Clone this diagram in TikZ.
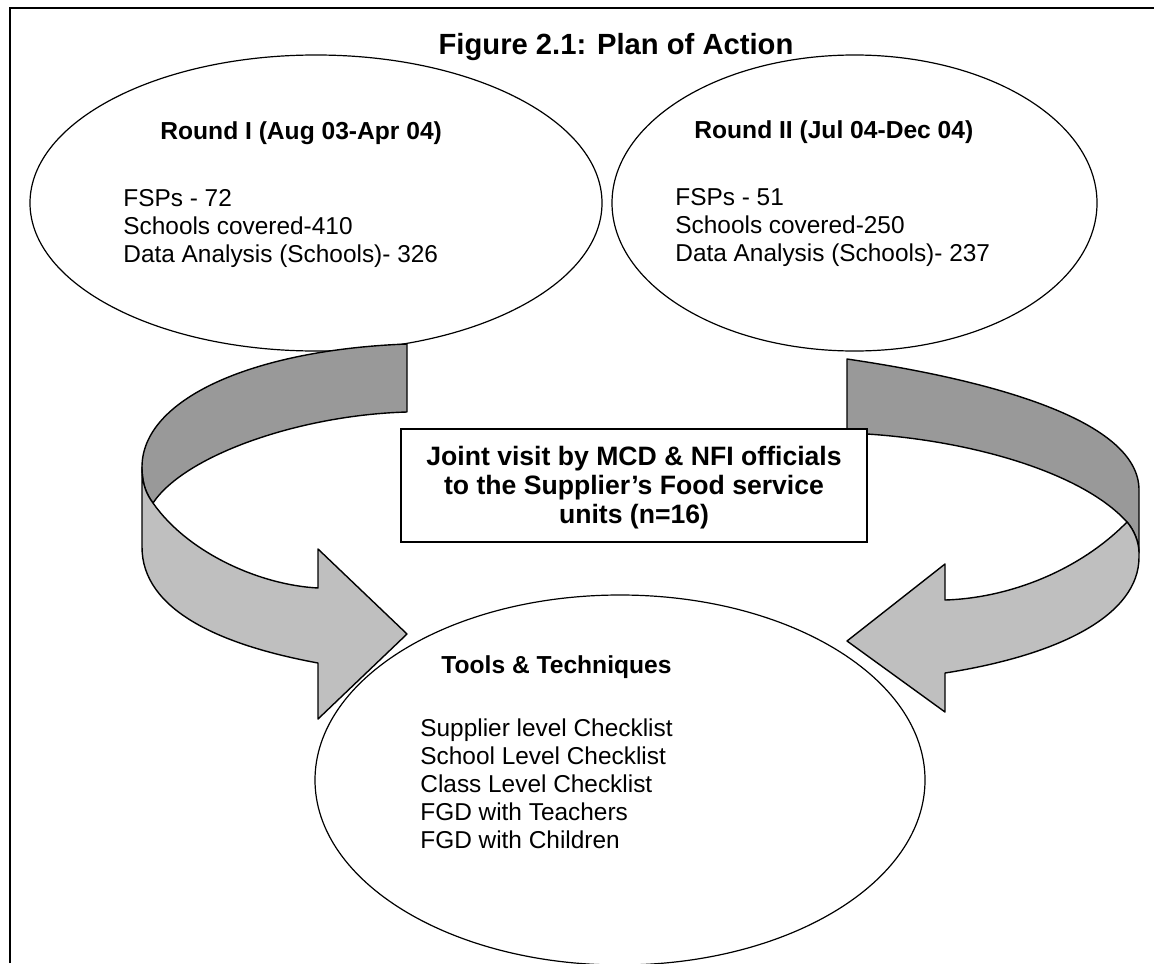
\documentclass[tikz,border=0pt]{standalone}
\usepackage{fontspec}
\setmainfont{Liberation Sans}
\usetikzlibrary{shapes.geometric}
\definecolor{backband}{gray}{0.6}
\definecolor{frontband}{gray}{0.75}

\begin{document}
\begin{tikzpicture}[x=0.5pt, y=-0.5pt,
	roundnode/.style={ellipse, draw=black, line width=0.6pt, inner sep=0pt},
	boxnode/.style={rectangle, draw=black, fill=white, line width=0.7pt, inner sep=0pt, minimum width=233pt, minimum height=56.5pt},
	headtext/.style={anchor=base west, inner sep=0pt, font=\fontsize{12.3}{14}\selectfont\bfseries},
	bodytext/.style={anchor=base west, inner sep=0pt, font=\fontsize{12.2}{14}\selectfont},
	band/.style={draw=black, line width=0.7pt, line join=round},
	]
	\useasboundingbox (0,0) rectangle (1154,963);
	
	%Frame
	\draw[line width=0.9pt] (10,963) -- (10,8) -- (1154,8);
	
	%Rounds
	\node[roundnode, minimum width=286pt, minimum height=148pt]	(roundone)	at (316,203)	{};
	\node[roundnode, minimum width=242.5pt, minimum height=148pt]	(roundtwo)	at (854.5,203)	{};
	
	\node[anchor=base, inner sep=0pt, font=\fontsize{14.6}{17}\selectfont\bfseries]	(title)	at (616,55)	{Figure 2.1: Plan of Action};
	
	\node[headtext]	(onehead)	at (160,139)	{Round I (Aug 03-Apr 04)};
	\node[bodytext]	(onebody)	at (123,206)	{\begin{tabular}[t]{@{}l@{}}FSPs - 72\\Schools covered-410\\Data Analysis (Schools)- 326\end{tabular}};
	\node[headtext]	(twohead)	at (694,138)	{Round II (Jul 04-Dec 04)};
	\node[bodytext]	(twobody)	at (675,205)	{\begin{tabular}[t]{@{}l@{}}FSPs - 51\\Schools covered-250\\Data Analysis (Schools)- 237\end{tabular}};
	
	%Bands
	\draw[band, fill=backband] (407,344) .. controls (250,350) and (142,400) .. (142,467) .. controls (142,485) and (147,495) .. (153,503) .. controls (185,455) and (300,415) .. (407,412) -- cycle;
	\draw[band, fill=frontband] (142,467) .. controls (142,485) and (147,495) .. (153,503) .. controls (188,553) and (260,585) .. (318,588) -- (318,549) -- (407,634) -- (318,719) -- (318,663) .. controls (220,645) and (142,610) .. (142,547) -- cycle;
	
	\draw[band, fill=backband] (847,359) .. controls (990,380) and (1139,420) .. (1139,490) -- (1139,553) .. controls (1139,542) and (1134,530) .. (1127,522) .. controls (1080,470) and (960,437) .. (847,433) -- cycle;
	\draw[band, fill=frontband] (1127,522) .. controls (1134,530) and (1139,542) .. (1139,553) -- (1139,557) .. controls (1139,615) and (1060,655) .. (945,673) -- (945,712) -- (847,641) -- (945,564) -- (945,600) .. controls (1010,598) and (1080,570) .. (1127,522) -- cycle;
	
	%Visit box
	\node[boxnode]	(visit)	at (634,485.5)	{};
	\node[anchor=base, inner sep=0pt, font=\fontsize{13.3}{14.5}\selectfont\bfseries]	(visittext)	at (634,465)	{\begin{tabular}[t]{@{}c@{}}Joint visit by MCD \& NFI officials\\to the Supplier’s Food service\\units (n=16)\end{tabular}};
	
	%Tools
	\node[roundnode, fill=white, minimum width=305pt, minimum height=185pt]	(tools)	at (620,780)	{};
	\node[headtext]	(toolshead)	at (441,673)	{Tools \& Techniques};
	\node[bodytext]	(toolsbody)	at (420,736)	{\begin{tabular}[t]{@{}l@{}}Supplier level Checklist\\School Level Checklist\\Class Level Checklist\\FGD with Teachers\\FGD with Children\end{tabular}};
	
\end{tikzpicture}
\end{document}
